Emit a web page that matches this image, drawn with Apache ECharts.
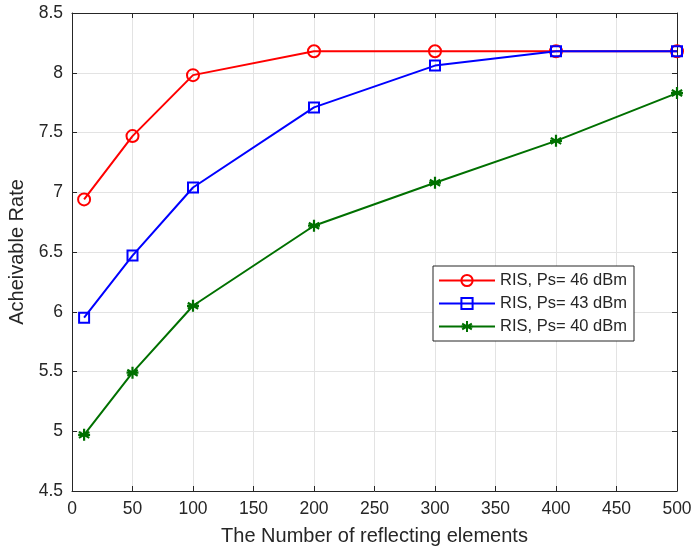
<!DOCTYPE html>
<html><head><meta charset="utf-8">
<script src="https://cdn.jsdelivr.net/npm/echarts@6/dist/echarts.min.js"></script>
<style>html,body{margin:0;padding:0;background:#fff}#c{width:694px;height:550px}</style>
</head><body><div id="c"></div>
<script>
const xValues = [10, 50, 100, 200, 300, 400, 500];
const ps46 = [6.94, 7.47, 7.98, 8.18, 8.18, 8.18, 8.18];
const ps43 = [5.95, 6.47, 7.04, 7.71, 8.06, 8.18, 8.18];
const ps40 = [4.97, 5.49, 6.05, 6.72, 7.08, 7.43, 7.83];
const seriesNames = ['RIS, Ps= 46 dBm', 'RIS, Ps= 43 dBm', 'RIS, Ps= 40 dBm'];
const xTitle = 'The Number of reflecting elements';
const yTitle = 'Acheivable Rate';

const pair = arr => xValues.map((x, i) => [x, arr[i]]);
const star = 'path://M0,-10L0,10M-8.66,-5L8.66,5M-8.66,5L8.66,-5M-10,0L10,0';
const font = 'Liberation Sans, Arial, Helvetica, sans-serif';
const axisCol = '#262626';

const chart = echarts.init(document.getElementById('c'));
const baseX = {
  type: 'value', min: 0, max: 500, interval: 50,
  axisLine: {show: true, onZero: false, lineStyle: {color: axisCol, width: 1}},
  axisTick: {show: true, inside: true, length: 5, lineStyle: {color: axisCol}},
  splitLine: {show: true, lineStyle: {color: '#e3e3e3', width: 1}},
  axisLabel: {color: axisCol, fontSize: 17.5, fontFamily: font, margin: 9}
};
const baseY = {
  type: 'value', min: 4.5, max: 8.5, interval: 0.5,
  axisLine: {show: true, onZero: false, lineStyle: {color: axisCol, width: 1}},
  axisTick: {show: true, inside: true, length: 5, lineStyle: {color: axisCol}},
  splitLine: {show: true, lineStyle: {color: '#e3e3e3', width: 1}},
  axisLabel: {color: axisCol, fontSize: 17.5, fontFamily: font, margin: 9}
};
chart.setOption({
  animation: false,
  backgroundColor: '#fff',
  grid: {left: 72, right: 17, top: 13, bottom: 59, outerBoundsMode: 'none', containLabel: false},
  xAxis: [
    Object.assign({}, baseX, {position: 'bottom', name: xTitle, nameLocation: 'middle', nameGap: 35,
      nameTextStyle: {color: axisCol, fontSize: 20, fontFamily: font}}),
    Object.assign({}, baseX, {position: 'top', axisLabel: {show: false}, splitLine: {show: false}})
  ],
  yAxis: [
    Object.assign({}, baseY, {position: 'left', name: yTitle, nameLocation: 'middle', nameGap: 41,
      nameTextStyle: {color: axisCol, fontSize: 20, fontFamily: font}}),
    Object.assign({}, baseY, {position: 'right', axisLabel: {show: false}, splitLine: {show: false}})
  ],
  legend: {
    orient: 'vertical', left: 433, top: 266,
    itemWidth: 56, itemHeight: 14, itemGap: 6,
    padding: [6, 7, 6, 5],
    borderColor: axisCol, borderWidth: 1, backgroundColor: '#fff',
    textStyle: {color: axisCol, fontSize: 16.5, fontFamily: font},
    data: seriesNames
  },
  series: [
    {name: seriesNames[0], type: 'line', data: pair(ps46), symbol: 'circle', symbolSize: 12,
      lineStyle: {color: '#ff0000', width: 2},
      itemStyle: {color: 'rgba(0,0,0,0)', borderColor: '#ff0000', borderWidth: 2}, z: 2},
    {name: seriesNames[1], type: 'line', data: pair(ps43), symbol: 'rect', symbolSize: 10,
      lineStyle: {color: '#0000ff', width: 2},
      itemStyle: {color: 'rgba(0,0,0,0)', borderColor: '#0000ff', borderWidth: 2}, z: 3},
    {name: seriesNames[2], type: 'line', data: pair(ps40), symbol: star, symbolSize: 12,
      lineStyle: {color: '#007000', width: 2},
      itemStyle: {color: 'rgba(0,0,0,0)', borderColor: '#007000', borderWidth: 2.2}, z: 4}
  ]
});
</script></body></html>
